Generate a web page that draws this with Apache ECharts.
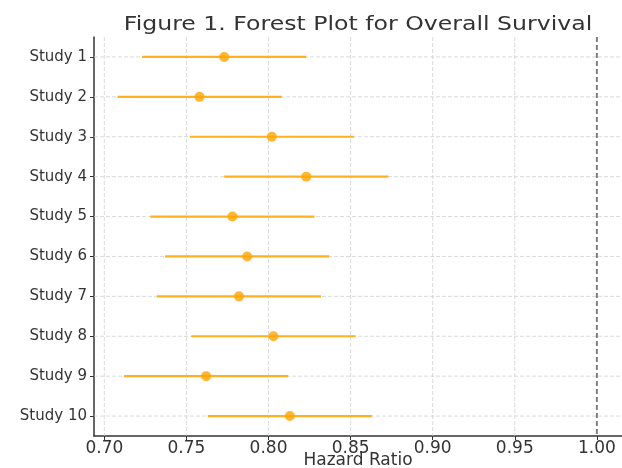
<!DOCTYPE html>
<html>
<head>
<meta charset="utf-8">
<script src="https://cdn.jsdelivr.net/npm/echarts@6/dist/echarts.min.js"></script>
<style>html,body{margin:0;padding:0;background:#fff;}#c{width:622px;height:468px;}</style>
</head>
<body>
<div id="c"></div>
<script>
const studies = ['Study 1','Study 2','Study 3','Study 4','Study 5','Study 6','Study 7','Study 8','Study 9','Study 10'];
const hr    = [0.773,0.758,0.802,0.823,0.778,0.787,0.782,0.803,0.762,0.813];
const lower = [0.723,0.708,0.752,0.773,0.728,0.737,0.732,0.753,0.712,0.763];
const upper = [0.823,0.808,0.852,0.873,0.828,0.837,0.832,0.853,0.812,0.863];
const xTicks = [0.70,0.75,0.80,0.85,0.90,0.95,1.00];
const refValue = 1.0;

const FONT = 'DejaVu Sans';
const chart = echarts.init(document.getElementById('c'), null, {renderer:'canvas'});

const ciData = studies.map((s,i)=>[lower[i], upper[i], s]);
const ptData = studies.map((s,i)=>[hr[i], s]);
const vGridData = xTicks.filter(v=>v!==refValue).map(v=>[v, studies[0]]);
const refData = [[refValue, studies[0]]];

function vLine(style){
  return (params, api)=>{
    const cs = params.coordSys;
    const p = api.coord([api.value(0), 0]);
    return {type:'line', shape:{x1:p[0], y1:cs.y, x2:p[0], y2:cs.y+cs.height}, style:style};
  };
}

chart.setOption({
  animation:false,
  backgroundColor:'#fff',
  graphic:[{
    type:'text', x:358, y:25, scaleX:1.18,
    style:{text:'Figure 1. Forest Plot for Overall Survival', align:'center', verticalAlign:'middle',
      font:'20px "DejaVu Sans"', fill:'#333'}
  }],
  grid:{left:94, right:0, top:37, height:399, outerBoundsMode:'none', containLabel:false},
  xAxis:{
    type:'value', min:0.6937, max:1.0153,
    name:'Hazard Ratio', nameLocation:'middle', nameGap:25, nameMoveOverlap:false,
    nameTextStyle:{fontFamily:FONT, fontSize:17, color:'#333', verticalAlign:'middle'},
    axisLine:{show:true, lineStyle:{color:'#333', width:1.5}},
    axisTick:{show:true, customValues:xTicks, length:4, lineStyle:{color:'#333'}},
    axisLabel:{customValues:xTicks, fontFamily:FONT, fontSize:17, color:'#333', margin:4,
      formatter:v=>v.toFixed(2)},
    splitLine:{show:false}
  },
  yAxis:{
    type:'category', data:studies, inverse:true,
    axisLine:{show:true, lineStyle:{color:'#333', width:1.5}},
    axisTick:{show:true, alignWithLabel:true, length:4, lineStyle:{color:'#333'}},
    axisLabel:{fontFamily:FONT, fontSize:15, color:'#333', margin:7},
    splitLine:{show:false}
  },
  series:[
    {
      type:'custom', z:1, silent:true,
      data:vGridData, encode:{x:0, y:1},
      renderItem:vLine({stroke:'#d0d0d0', lineWidth:0.8, lineDash:[4,2]})
    },
    {
      type:'custom', z:2, silent:true,
      data:ciData,
      encode:{x:[0,1], y:2},
      renderItem:(params, api)=>{
        const cs = params.coordSys;
        const idx = api.value(2);
        const a = api.coord([api.value(0), idx]);
        const b = api.coord([api.value(1), idx]);
        return {type:'group', children:[
          {type:'line', shape:{x1:cs.x, y1:a[1], x2:cs.x+cs.width, y2:a[1]},
            style:{stroke:'#d0d0d0', lineWidth:0.8, lineDash:[4,2]}, z2:0},
          {type:'line', shape:{x1:a[0], y1:a[1], x2:b[0], y2:b[1]},
            style:{stroke:'#FFB020', lineWidth:2.2}, z2:5}
        ]};
      }
    },
    {
      type:'custom', z:3, silent:true,
      data:refData, encode:{x:0, y:1},
      renderItem:vLine({stroke:'#808080', lineWidth:2, lineDash:[5,3]})
    },
    {
      type:'scatter', z:4,
      data:ptData,
      symbol:'circle', symbolSize:10,
      itemStyle:{color:'#FFA500'}
    }
  ]
});
</script>
</body>
</html>
